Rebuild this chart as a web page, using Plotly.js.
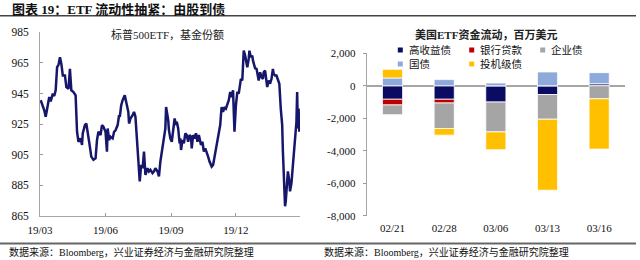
<!DOCTYPE html>
<html>
<head>
<meta charset="utf-8">
<script src="https://cdn.plot.ly/plotly-3.0.1.min.js"></script>
<style>
html,body{margin:0;padding:0;background:#fff;}
#chart{width:640px;height:260px;}
</style>
</head>
<body>
<div id="chart"></div>
<script>
// ---------- Left chart: S&P 500 ETF fund shares ----------
var etfDates = [
'2019-03-02','2019-03-05','2019-03-07','2019-03-09','2019-03-12','2019-03-14','2019-03-16','2019-03-19','2019-03-21','2019-03-23',
'2019-03-25','2019-03-27','2019-03-29','2019-03-31','2019-04-02','2019-04-05','2019-04-07','2019-04-10','2019-04-12','2019-04-14',
'2019-04-17','2019-04-20','2019-04-22','2019-04-24','2019-04-27','2019-04-29','2019-04-30','2019-05-03','2019-05-05','2019-05-07',
'2019-05-09','2019-05-12','2019-05-15','2019-05-18','2019-05-20','2019-05-22','2019-05-25','2019-05-27','2019-05-29','2019-06-01',
'2019-06-03','2019-06-04','2019-06-06','2019-06-08','2019-06-11','2019-06-13','2019-06-15','2019-06-18','2019-06-20','2019-06-21',
'2019-06-23','2019-06-25','2019-06-27','2019-06-28','2019-06-30','2019-07-03','2019-07-04','2019-07-06','2019-07-09','2019-07-11',
'2019-07-13','2019-07-15','2019-07-17','2019-07-18','2019-07-19','2019-07-21','2019-07-23','2019-07-25','2019-07-26','2019-07-27',
'2019-07-30','2019-08-01','2019-08-03','2019-08-06','2019-08-08','2019-08-10','2019-08-13','2019-08-15','2019-08-17','2019-08-20',
'2019-08-22','2019-08-24','2019-08-25','2019-08-27','2019-08-28','2019-08-29','2019-08-31','2019-09-02','2019-09-03','2019-09-06',
'2019-09-08','2019-09-09','2019-09-11','2019-09-13','2019-09-14','2019-09-15','2019-09-17','2019-09-19','2019-09-21','2019-09-23',
'2019-09-25','2019-09-27','2019-09-29','2019-09-30','2019-10-02','2019-10-04','2019-10-06','2019-10-08','2019-10-10','2019-10-12',
'2019-10-13','2019-10-15','2019-10-17','2019-10-19','2019-10-21','2019-10-23','2019-10-25','2019-10-27','2019-10-28','2019-10-30',
'2019-11-01','2019-11-03','2019-11-05','2019-11-07','2019-11-09','2019-11-10','2019-11-11','2019-11-13','2019-11-15','2019-11-17',
'2019-11-19','2019-11-21','2019-11-23','2019-11-25','2019-11-27','2019-11-28','2019-11-29','2019-12-01','2019-12-03','2019-12-05',
'2019-12-07','2019-12-08','2019-12-10','2019-12-11','2019-12-12','2019-12-14','2019-12-16','2019-12-17','2019-12-19','2019-12-20',
'2019-12-22','2019-12-24','2019-12-25','2019-12-27','2019-12-28','2019-12-30','2020-01-01','2020-01-02','2020-01-04','2020-01-06',
'2020-01-08','2020-01-09','2020-01-11','2020-01-13','2020-01-14','2020-01-16','2020-01-18','2020-01-20','2020-01-22','2020-01-23',
'2020-01-25','2020-01-27','2020-01-29','2020-01-31','2020-02-02','2020-02-04','2020-02-05','2020-02-06','2020-02-08','2020-02-09',
'2020-02-10','2020-02-12','2020-02-14','2020-02-15','2020-02-17','2020-02-18','2020-02-20','2020-02-21','2020-02-22','2020-02-24',
'2020-02-25','2020-02-26','2020-02-27','2020-02-28'
];
var etfShares = [
940.6,937.3,934.1,929.8,936.2,942.7,939.9,944.9,943.4,947.1,
962.2,963.7,968.7,964.4,956.8,956.8,949.2,948.1,961.1,947.1,
946.0,943.8,920.0,913.5,915.7,911.4,919.0,924.4,925.4,917.9,
913.5,903.8,901.7,902.7,914.6,920.0,917.9,924.4,923.3,920.0,
907.0,922.2,914.6,916.8,915.7,920.0,921.0,924.4,930.8,929.7,
937.3,940.6,942.7,943.8,939.5,933.0,925.4,928.7,930.8,933.0,
929.8,915.7,907.1,896.2,887.6,898.4,896.2,907.1,898.4,891.9,
896.2,894.1,895.2,893.0,894.1,896.2,894.1,890.8,900.6,909.2,
917.9,922.2,936.2,930.8,927.6,921.1,915.7,913.5,917.9,928.7,
924.4,926.5,922.2,912.5,915.7,908.1,914.6,912.5,919.0,917.9,
913.5,917.9,916.8,909.2,917.9,915.7,919.0,913.5,917.9,914.6,
911.4,913.5,907.1,909.2,907.1,903.8,900.6,897.3,897.3,898.4,
903.8,909.2,912.5,920.0,924.4,930.8,936.2,933.0,936.2,935.2,
937.3,940.6,946.0,942.7,947.1,935.2,920.0,937.3,946.0,944.9,
950.3,954.6,953.5,969.8,973.0,969.8,965.4,962.2,967.6,973.0,
968.7,969.8,966.5,962.2,961.5,961.1,956.8,953.5,958.9,955.7,
954.6,958.9,960.0,954.6,949.2,953.5,951.4,954.6,961.1,957.9,
956.8,956.8,953.5,951.4,935.2,924.4,907.1,891.9,871.4,874.6,
883.3,894.1,887.6,881.1,886.5,891.9,902.7,913.5,915.7,926.5,
946.0,922.2,935.2,920.0
];
var leftTickVals = ['2019-03-01','2019-06-01','2019-09-01','2019-12-01'];
var leftTickText = ['19/03','19/06','19/09','19/12'];
var leftYTicks = [865,885,905,925,945,965,985];

// ---------- Right chart: US ETF flows, USD mn ----------
var weeks = ['02/21','02/28','03/06','03/13','03/16'];
var seriesNames = ['高收益债','银行贷款','企业债','国债','投机级债'];
var highYield  = [-830, -830, -1000, -540, 130];
var bankLoans  = [-350, -230, 0, 0, 0];
var corporate  = [-600, -1570, -1840, -1520, -800];
var treasuries = [480, 380, 170, 850, 680];
var specGrade  = [535, -410, -1100, -4370, -3100];
var seriesValues = [highYield, bankLoans, corporate, treasuries, specGrade];
var seriesColors = ['#0b0b63','#c00000','#a5a5a5','#8eaadb','#ffc000'];
var rightYTickVals = [-8000,-6000,-4000,-2000,0,2000];
var rightYTickText = ['-8,000','-6,000','-4,000','-2,000','0','2,000'];

var FONT = 'Liberation Serif, Noto Sans CJK SC, serif';
var W = 640, H = 260;
function px(x){return x/W;}
function py(y){return 1 - y/H;}

var traces = [{
  type:'scatter', mode:'lines', x: etfDates, y: etfShares,
  xaxis:'x', yaxis:'y', line:{color:'#16176b', width:2.5}, showlegend:false,
  name:'标普500ETF'
}];
for (var i=0;i<seriesNames.length;i++){
  traces.push({
    type:'bar', x: weeks, y: seriesValues[i], name: seriesNames[i],
    xaxis:'x2', yaxis:'y2',
    marker:{color: seriesColors[i], line:{color:'#ffffff', width:0.8}},
    showlegend:false
  });
}

var annotations = [
  {text:'<b>图表 19：ETF 流动性抽紧：由股到债</b>', x:px(10), y:py(9.5), xanchor:'left', yanchor:'middle', font:{size:13, color:'#111'}},
  {text:'标普500ETF，基金份额', x:px(167.5), y:py(34.5), xanchor:'center', yanchor:'middle', font:{size:11, color:'#222'}},
  {text:'<b>美国ETF资金流动，百万美元</b>', x:px(485.7), y:py(35), xanchor:'center', yanchor:'middle', font:{size:11, color:'#222'}},
  {text:'数据来源：Bloomberg，兴业证券经济与金融研究院整理', x:px(7), y:py(251.5), xanchor:'left', yanchor:'middle', font:{size:10, color:'#111'}},
  {text:'数据来源：Bloomberg，兴业证券经济与金融研究院整理', x:px(322), y:py(251.5), xanchor:'left', yanchor:'middle', font:{size:10, color:'#111'}}
];
var shapes = [
  {type:'line', xref:'paper', yref:'paper', x0:0, x1:px(636), y0:py(15.8), y1:py(15.8), line:{color:'#444', width:1.5}},
  {type:'line', xref:'paper', yref:'paper', x0:0, x1:px(636), y0:py(243.5), y1:py(243.5), line:{color:'#666', width:2}}
];
// legend (markers + names) for the right chart
var legMarkX = [400.3, 471.7, 542.7, 400.3, 471.7];
var legRowY  = [50, 50, 50, 64, 64];
for (var j=0;j<seriesNames.length;j++){
  var mx = legMarkX[j], my = legRowY[j];
  shapes.push({type:'rect', xref:'paper', yref:'paper', x0:px(mx-2.5), x1:px(mx+2.5), y0:py(my+2.5), y1:py(my-2.5), fillcolor:seriesColors[j], line:{width:0}});
  annotations.push({text:seriesNames[j], x:px(mx+6.5), y:py(my), xanchor:'left', yanchor:'middle', font:{size:10.5, color:'#111'}});
}
annotations.forEach(function(a){a.xref='paper'; a.yref='paper'; a.showarrow=false; a.font.family=FONT;});

var layout = {
  width:W, height:H,
  margin:{l:0,r:0,t:0,b:0,pad:0},
  paper_bgcolor:'#ffffff', plot_bgcolor:'rgba(0,0,0,0)',
  showlegend:false,
  barmode:'relative', bargap:0.61,
  font:{family:FONT, size:11, color:'#111'},
  xaxis:{domain:[px(40), px(300)], anchor:'y', type:'date',
    range:['2019-03-01','2020-02-29'],
    tickvals:leftTickVals, ticktext:leftTickText,
    ticks:'inside', ticklen:3, tickcolor:'#999', tickwidth:1,
    showline:true, linecolor:'#a6a6a6', linewidth:1,
    showgrid:false, zeroline:false, tickfont:{size:11}, ticklabelstandoff:4},
  yaxis:{domain:[py(216), py(32.3)], anchor:'x', range:[865,985],
    tickvals:leftYTicks, ticks:'inside', ticklen:3, tickcolor:'#999',
    showline:true, linecolor:'#a6a6a6', linewidth:1,
    showgrid:false, zeroline:false, tickfont:{size:11.5}, ticklabelstandoff:8},
  xaxis2:{domain:[px(366.7), px(625)], anchor:'y2', type:'category',
    showline:false, ticks:'', showgrid:false, zeroline:false,
    tickfont:{size:11}, ticklabelstandoff:4},
  yaxis2:{domain:[py(215.7), py(53.3)], anchor:'x2', range:[-8000,2000],
    tickvals:rightYTickVals, ticktext:rightYTickText,
    ticks:'outside', ticklen:3, tickcolor:'#999',
    showline:true, linecolor:'#a6a6a6', linewidth:1,
    showgrid:false, zeroline:true, zerolinecolor:'#a6a6a6', zerolinewidth:1.5,
    tickfont:{size:11}, ticklabelstandoff:5},
  annotations:annotations,
  shapes:shapes
};

Plotly.newPlot('chart', traces, layout, {displayModeBar:false, staticPlot:true});
</script>
</body>
</html>
